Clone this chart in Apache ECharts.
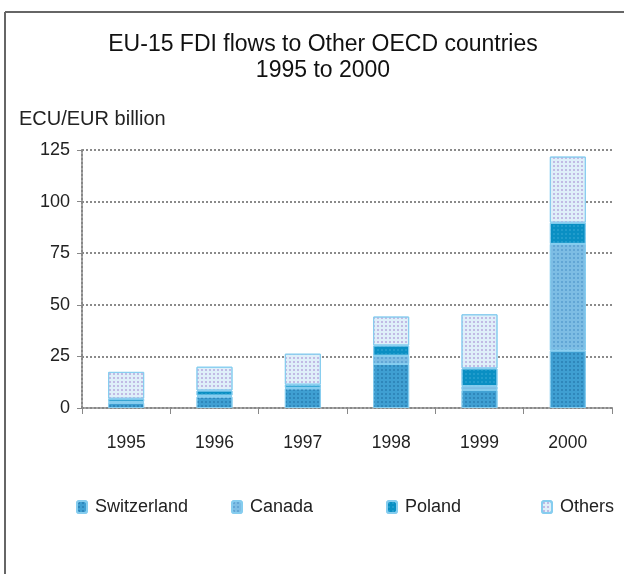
<!DOCTYPE html>
<html style="height: 100%">
<head>
    <meta charset="utf-8">
</head>
<body style="height: 100%; margin: 0; background: #fff">
    <div id="container" style="width: 624px; height: 574px"></div>
    <script src="https://cdn.jsdelivr.net/npm/echarts@6/dist/echarts.min.js"></script>
    <script type="text/javascript">
        // ECU/EUR billion
        const years = ['1995', '1996', '1997', '1998', '1999', '2000'];
        const switzerland = [2.5, 5.5, 9.5, 21.3, 8.7, 27.8];
        const canada = [0.5, 0.5, 0.3, 4.0, 1.9, 51.7];
        const poland = [1.5, 2.5, 1.5, 5.0, 8.6, 10.3];
        const others = [13.0, 11.5, 15.0, 14.0, 26.2, 32.0];

        const yMax = 125;
        const yStep = 25;

        let dom = document.getElementById('container');
        let myChart = echarts.init(dom, null, { renderer: 'canvas' });

        const font = 'Liberation Sans, Arial, sans-serif';
        const edge = '#86cdef';

        const dots = (c) => ({
            symbol: 'circle',
            symbolSize: 0.5,
            color: c,
            dashArrayX: [4, 0],
            dashArrayY: [4, 0]
        });

        const mkSeries = (name, data, color, dotColor) => ({
            name: name,
            type: 'bar',
            stack: 'total',
            barWidth: 36,
            data: data,
            itemStyle: {
                color: color,
                borderColor: edge,
                borderWidth: 1,
                decal: dots(dotColor)
            }
        });

        const legendAt = (name, left) => ({
            data: [name],
            left: left,
            top: 498,
            itemWidth: 10,
            itemHeight: 12,
            itemGap: 4,
            padding: 0,
            textStyle: { fontFamily: font, fontSize: 18, color: '#222', padding: [0, 0, 0, 3] }
        });

        let option = {
            animation: false,
            backgroundColor: '#fff',
            title: [
                {
                    text: 'EU-15 FDI flows to Other OECD countries\n1995 to 2000',
                    left: 318,
                    textAlign: 'center',
                    top: 27,
                    textStyle: { fontFamily: font, fontSize: 23, fontWeight: 'normal', color: '#111', lineHeight: 26 }
                },
                {
                    text: 'ECU/EUR billion',
                    left: 14,
                    top: 104,
                    textStyle: { fontFamily: font, fontSize: 20, fontWeight: 'normal', color: '#222' }
                }
            ],
            legend: [
                legendAt('Switzerland', 76),
                legendAt('Canada', 231),
                legendAt('Poland', 386),
                legendAt('Others', 541)
            ],
            grid: { left: 82, right: 12, top: 150, bottom: 166 },
            xAxis: {
                type: 'category',
                data: years,
                axisLine: { lineStyle: { color: '#888', type: 'dotted', width: 2 } },
                axisTick: { show: true, length: 6, lineStyle: { color: '#888' } },
                axisLabel: { fontFamily: font, fontSize: 17.5, color: '#222', margin: 26 }
            },
            yAxis: {
                type: 'value',
                min: 0,
                max: yMax,
                interval: yStep,
                axisLine: { show: true, lineStyle: { color: '#888', type: 'dotted', width: 2 } },
                axisTick: { show: true, length: 5, lineStyle: { color: '#888' } },
                axisLabel: { fontFamily: font, fontSize: 18, color: '#222', margin: 12 },
                splitLine: { lineStyle: { color: '#8a8a8a', type: 'dotted', width: 2 } }
            },
            graphic: [
                { type: 'line', shape: { x1: 5, y1: 12, x2: 624, y2: 12 }, style: { stroke: '#666', lineWidth: 2 } },
                { type: 'line', shape: { x1: 5, y1: 12, x2: 5, y2: 574 }, style: { stroke: '#666', lineWidth: 2 } }
            ],
            series: [
                mkSeries('Switzerland', switzerland, '#3f9fd2', '#2b7fb3'),
                mkSeries('Canada', canada, '#7dbde4', '#5a9fd0'),
                mkSeries('Poland', poland, '#0a8fc3', '#2aa0cf'),
                mkSeries('Others', others, '#dfeff9', '#b7a9dc')
            ]
        };

        myChart.setOption(option);
    </script>
</body>
</html>
